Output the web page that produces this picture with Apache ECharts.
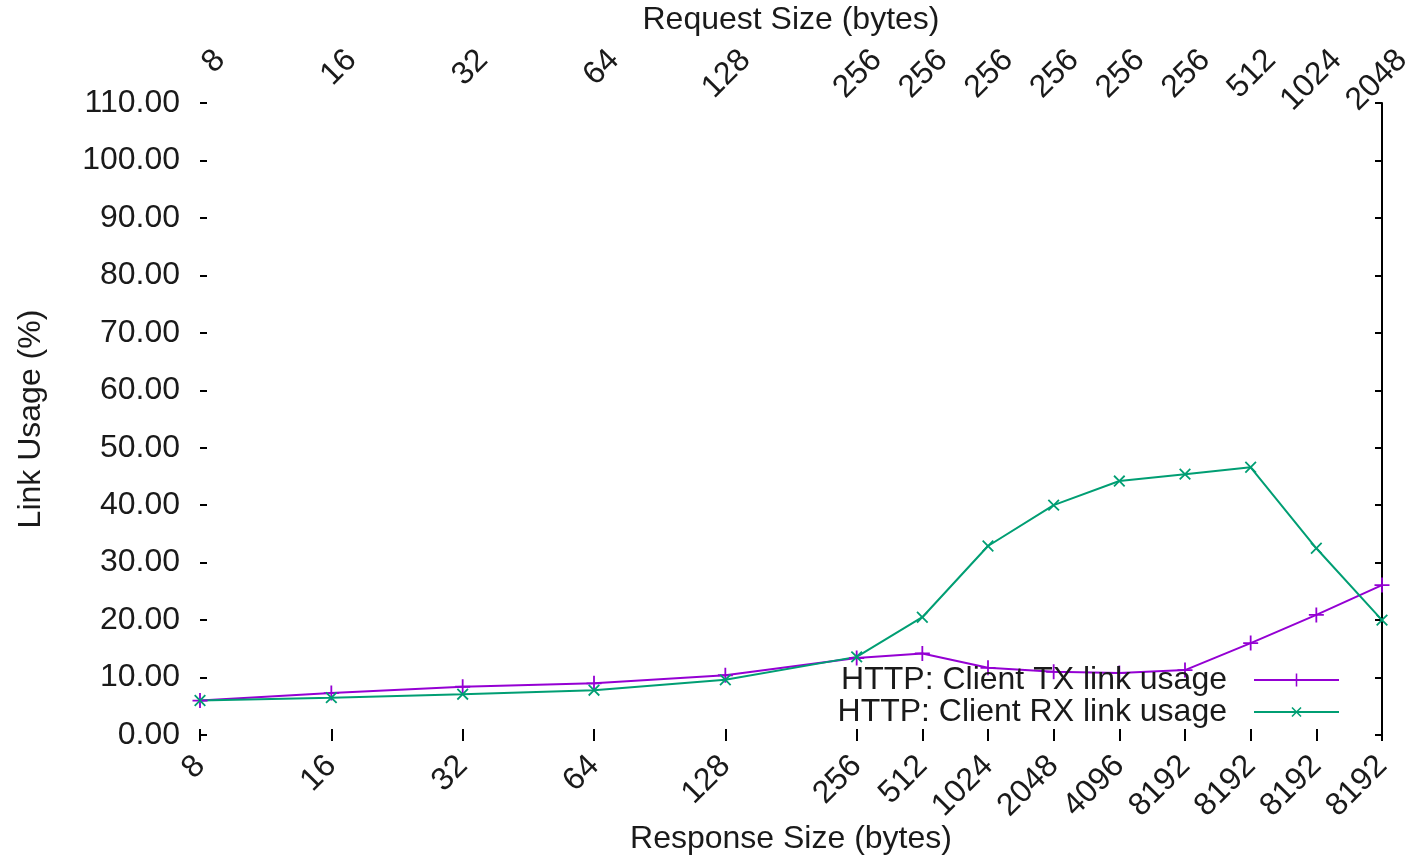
<!DOCTYPE html>
<html>
<head>
<meta charset="utf-8">
<script src="https://cdn.jsdelivr.net/npm/echarts@6/dist/echarts.min.js"></script>
<style>
html,body{margin:0;padding:0;background:#fff;}
#chart{width:1406px;height:857px;}
</style>
</head>
<body>
<div id="chart"></div>
<script>
const responseSizes = ['8','16','32','64','128','256','512','1024','2048','4096','8192','8192','8192','8192'];
const requestSizes  = ['8','16','32','64','128','256','256','256','256','256','256','512','1024','2048'];
const txUsage = [6.0, 7.3, 8.4, 9.0, 10.4, 13.4, 14.2, 11.7, 11.0, 10.8, 11.3, 16.0, 20.9, 26.1];
const rxUsage = [6.0, 6.5, 7.1, 7.8, 9.6, 13.6, 20.5, 32.9, 40.0, 44.2, 45.4, 46.6, 32.5, 20.0];
const yTicks = {min: 0, max: 110, interval: 10};

// the first five intervals are drawn twice as wide: insert a spacer category after each
const wideSteps = 5;
function expandCats(arr){ const out=[]; arr.forEach((v,i)=>{ out.push(v); if(i<wideSteps) out.push(''); }); return out; }
function expandVals(arr){ const out=[]; arr.forEach((v,i)=>{ out.push(v); if(i<wideSteps) out.push(null); }); return out; }

const bottomCats = expandCats(responseSizes);
const topCats = expandCats(requestSizes);

const FONT = 'Liberation Sans';
const TXT = '#1a1a1a';
const FS = 32;
const plusPath = 'path://M4.4,0h1.2v4.4h4.4v1.2h-4.4v4.4h-1.2v-4.4h-4.4v-1.2h4.4z';

const chart = echarts.init(document.getElementById('chart'), null, {renderer:'canvas'});
const tickFilter = (idx, val) => val !== '';
chart.setOption({
  animation: false,
  backgroundColor: '#fff',
  textStyle: {fontFamily: FONT, color: TXT},
  grid: {left: 200, right: 24, top: 103, bottom: 122, containLabel: false, outerBoundsMode: 'none'},
  legend: {
    orient: 'vertical', align: 'right', right: 61, top: 659,
    itemWidth: 85, itemHeight: 16, itemGap: 0,
    textStyle: {fontFamily: FONT, fontSize: FS, color: TXT, padding: [0, 22, 0, 0]},
    data: ['HTTP: Client TX link usage', 'HTTP: Client RX link usage']
  },
  xAxis: [
    {
      type: 'category', position: 'bottom', data: bottomCats, boundaryGap: false,
      name: 'Response Size (bytes)', nameLocation: 'middle', nameGap: 88, nameMoveOverlap: false,
      nameTextStyle: {fontFamily: FONT, fontSize: FS, color: TXT},
      axisLine: {show: false},
      axisTick: {show: true, inside: true, length: 6, interval: tickFilter, lineStyle: {color: '#000', width: 2}},
      axisLabel: {interval: 0, rotate: 45, margin: 26, fontFamily: FONT, fontSize: FS, color: TXT},
      splitLine: {show: false}
    },
    {
      type: 'category', position: 'top', data: topCats, boundaryGap: false,
      name: 'Request Size (bytes)', nameLocation: 'middle', nameGap: 67, nameMoveOverlap: false,
      nameTextStyle: {fontFamily: FONT, fontSize: FS, color: TXT},
      axisLine: {show: false},
      axisTick: {show: true, inside: true, length: 6, interval: tickFilter, lineStyle: {color: '#000', width: 2}},
      axisLabel: {interval: 0, rotate: 45, margin: 68, align: 'right', verticalAlign: 'top', lineHeight: 57,
                  fontFamily: FONT, fontSize: FS, color: TXT},
      splitLine: {show: false}
    }
  ],
  yAxis: [
    {
      type: 'value', position: 'left', min: yTicks.min, max: yTicks.max, interval: yTicks.interval,
      name: 'Link Usage (%)', nameLocation: 'middle', nameGap: 153, nameMoveOverlap: false,
      nameTextStyle: {fontFamily: FONT, fontSize: FS, color: TXT},
      axisLine: {show: false},
      axisTick: {show: true, inside: true, length: 7, lineStyle: {color: '#000', width: 2}},
      axisLabel: {margin: 20, fontFamily: FONT, fontSize: FS, color: TXT, formatter: v => v.toFixed(2)},
      splitLine: {show: false}
    },
    {
      type: 'value', position: 'right', min: yTicks.min, max: yTicks.max, interval: yTicks.interval,
      axisLine: {show: true, lineStyle: {color: '#000', width: 2}},
      axisTick: {show: true, inside: true, length: 7, lineStyle: {color: '#000', width: 2}},
      axisLabel: {show: false},
      splitLine: {show: false}
    }
  ],
  series: [
    {
      name: 'HTTP: Client TX link usage', type: 'line', xAxisIndex: 0, yAxisIndex: 0,
      data: expandVals(txUsage), connectNulls: true,
      symbol: plusPath, symbolSize: 15, showAllSymbol: true,
      lineStyle: {color: '#9400d3', width: 2},
      itemStyle: {color: '#9400d3'}, color: '#9400d3'
    },
    {
      name: 'HTTP: Client RX link usage', type: 'line', xAxisIndex: 0, yAxisIndex: 0,
      data: expandVals(rxUsage), connectNulls: true,
      symbol: plusPath, symbolRotate: 45, symbolSize: 15, showAllSymbol: true,
      lineStyle: {color: '#009e73', width: 2},
      itemStyle: {color: '#009e73'}, color: '#009e73'
    }
  ]
});
</script>
</body>
</html>
